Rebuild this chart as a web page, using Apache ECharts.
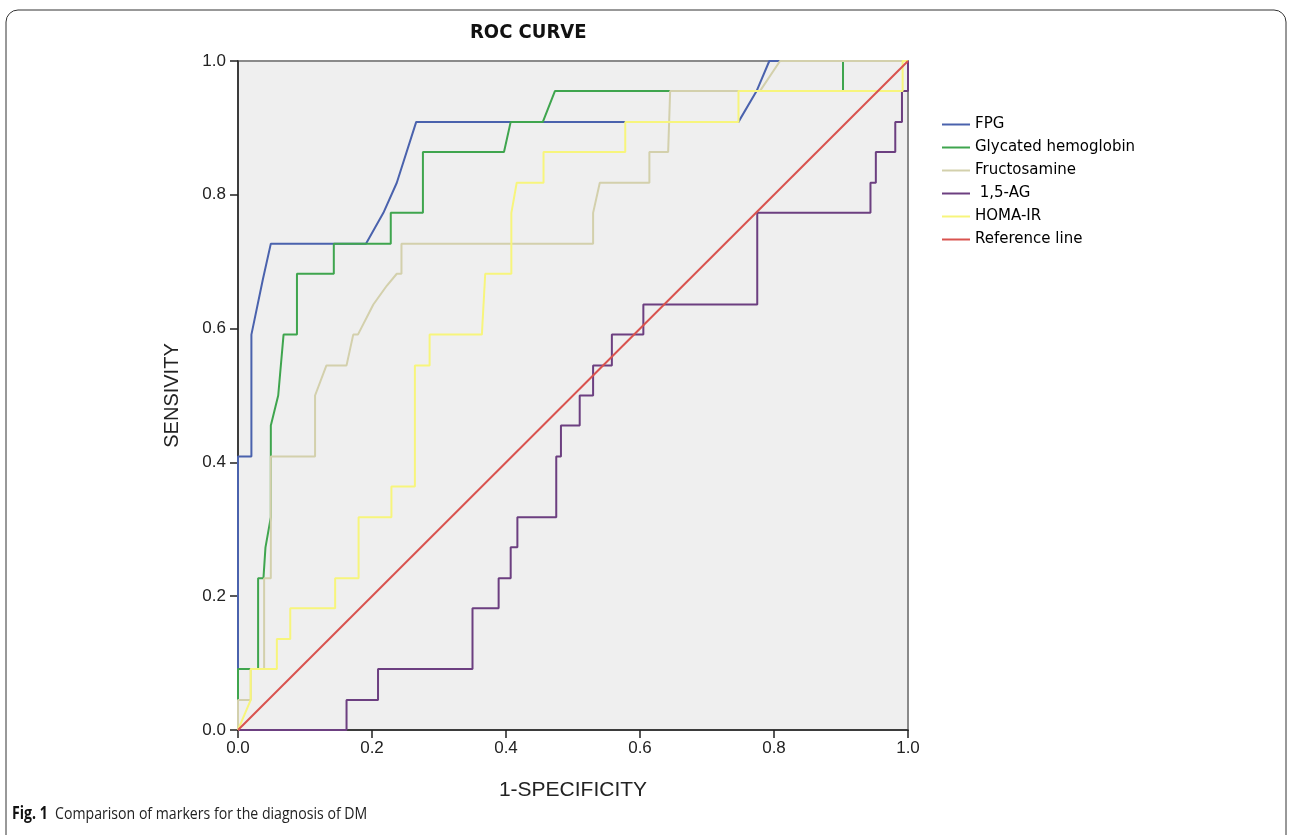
<!DOCTYPE html>
<html style="height: 100%">
<head>
    <meta charset="utf-8">
</head>
<body style="height: 100%; margin: 0; background: #fff">
    <div id="container" style="width: 1293px; height: 835px"></div>
    <script type="text/javascript" src="https://cdn.jsdelivr.net/npm/echarts@6/dist/echarts.min.js"></script>
    <script type="text/javascript">
        // ROC points, [1-specificity, sensitivity]
        var fpg = [[0, 0], [0, 0.409], [0.020, 0.409], [0.020, 0.591], [0.037, 0.673], [0.049, 0.727],
            [0.191, 0.727], [0.217, 0.773], [0.237, 0.818], [0.266, 0.909], [0.747, 0.909],
            [0.774, 0.955], [0.793, 1], [1, 1]];
        var hba1c = [[0, 0], [0, 0.091], [0.030, 0.091], [0.030, 0.227], [0.038, 0.227], [0.041, 0.273],
            [0.049, 0.318], [0.049, 0.455], [0.060, 0.5], [0.068, 0.591], [0.088, 0.591], [0.088, 0.682],
            [0.143, 0.682], [0.143, 0.727], [0.228, 0.727], [0.228, 0.773], [0.276, 0.773], [0.276, 0.864],
            [0.397, 0.864], [0.407, 0.909], [0.455, 0.909], [0.473, 0.955], [0.903, 0.955], [0.903, 1], [1, 1]];
        var fructosamine = [[0, 0], [0, 0.045], [0.019, 0.045], [0.019, 0.091], [0.039, 0.091], [0.039, 0.227],
            [0.049, 0.227], [0.049, 0.409], [0.115, 0.409], [0.115, 0.5], [0.132, 0.545], [0.162, 0.545],
            [0.172, 0.591], [0.179, 0.591], [0.202, 0.636], [0.222, 0.664], [0.237, 0.682], [0.244, 0.682],
            [0.244, 0.727], [0.530, 0.727], [0.530, 0.773], [0.540, 0.818], [0.614, 0.818], [0.614, 0.864],
            [0.642, 0.864], [0.645, 0.955], [0.779, 0.955], [0.809, 1], [1, 1]];
        var ag15 = [[0, 0], [0.162, 0], [0.162, 0.045], [0.209, 0.045], [0.209, 0.091], [0.350, 0.091],
            [0.350, 0.182], [0.389, 0.182], [0.389, 0.227], [0.407, 0.227], [0.407, 0.273], [0.417, 0.273],
            [0.417, 0.318], [0.475, 0.318], [0.475, 0.409], [0.482, 0.409], [0.482, 0.455], [0.510, 0.455],
            [0.510, 0.5], [0.530, 0.5], [0.530, 0.545], [0.558, 0.545], [0.558, 0.591], [0.605, 0.591],
            [0.605, 0.636], [0.775, 0.636], [0.775, 0.773], [0.944, 0.773], [0.944, 0.818], [0.952, 0.818],
            [0.952, 0.864], [0.981, 0.864], [0.981, 0.909], [0.991, 0.909], [0.991, 0.955], [1, 0.955], [1, 1]];
        var homaIR = [[0, 0], [0.019, 0.045], [0.019, 0.091], [0.058, 0.091], [0.058, 0.136], [0.078, 0.136],
            [0.078, 0.182], [0.145, 0.182], [0.145, 0.227], [0.180, 0.227], [0.180, 0.318], [0.229, 0.318],
            [0.229, 0.364], [0.264, 0.364], [0.264, 0.545], [0.286, 0.545], [0.286, 0.591], [0.364, 0.591],
            [0.369, 0.682], [0.408, 0.682], [0.408, 0.773], [0.416, 0.818], [0.456, 0.818], [0.456, 0.864],
            [0.578, 0.864], [0.578, 0.909], [0.747, 0.909], [0.747, 0.955], [0.992, 0.955], [0.992, 1], [1, 1]];
        var refLine = [[0, 0], [1, 1]];

        var names = ['FPG', 'Glycated hemoglobin', 'Fructosamine', ' 1,5-AG', 'HOMA-IR', 'Reference line'];
        var colors = ['#4a62ad', '#3fa54e', '#d3d0ac', '#6c3f80', '#f7f57c', '#d9534f'];
        var curves = [fpg, hba1c, fructosamine, ag15, homaIR, refLine];

        var dom = document.getElementById("container");
        var myChart = echarts.init(dom);

        var axisFont = { fontFamily: 'Liberation Sans', fontSize: 17, color: '#222' };

        var option = {
            animation: false,
            color: colors,
            grid: {
                left: 238, top: 61, width: 670, height: 669,
                show: true, backgroundColor: '#efefef', borderColor: '#8a8a8a', borderWidth: 2
            },
            legend: {
                orient: 'vertical',
                left: 937, top: 111,
                icon: 'rect', itemWidth: 28, itemHeight: 2, itemGap: 6,
                textStyle: { fontFamily: 'DejaVu Sans', fontSize: 15, color: '#000', lineHeight: 17 },
                data: names
            },
            xAxis: {
                type: 'value', min: 0, max: 1, interval: 0.2,
                name: '1-SPECIFICITY', nameLocation: 'middle', nameGap: 50,
                nameTextStyle: { fontFamily: 'Liberation Sans', fontSize: 21, color: '#222' },
                axisLine: { lineStyle: { color: '#222', width: 1.5 } },
                axisTick: { length: 8, lineStyle: { color: '#222', width: 1.5 } },
                axisLabel: Object.assign({ margin: 10, formatter: function (v) { return v.toFixed(1); } }, axisFont),
                splitLine: { show: false }
            },
            yAxis: {
                type: 'value', min: 0, max: 1, interval: 0.2,
                name: 'SENSIVITY', nameLocation: 'middle', nameGap: 56,
                nameTextStyle: { fontFamily: 'Liberation Sans', fontSize: 20, color: '#222' },
                axisLine: { show: true, lineStyle: { color: '#222', width: 1.5 } },
                axisTick: { show: true, length: 8, lineStyle: { color: '#222', width: 1.5 } },
                axisLabel: Object.assign({ margin: 12, formatter: function (v) { return v.toFixed(1); } }, axisFont),
                splitLine: { show: false }
            },
            graphic: [
                {
                    type: 'rect', silent: true,
                    shape: { x: 6, y: 10, width: 1280, height: 900, r: 12 },
                    style: { fill: 'none', stroke: '#333', lineWidth: 1 }
                },
                {
                    type: 'text', left: 470, top: 23,
                    style: { text: 'ROC CURVE', fontFamily: 'DejaVu Sans Condensed', fontWeight: 'bold', fontSize: 20, fill: '#111' }
                },
                {
                    type: 'text', left: 12, top: 806, scaleX: 0.83,
                    style: {
                        text: '{b|Fig. 1}  Comparison of markers for the diagnosis of DM',
                        fontFamily: 'Open Sans', fontSize: 17, fill: '#222',
                        rich: { b: { fontFamily: 'Open Sans', fontWeight: 'bold', fontSize: 17, fill: '#111' } }
                    }
                }
            ],
            series: curves.map(function (pts, i) {
                return {
                    name: names[i], type: 'line', data: pts,
                    showSymbol: false, symbol: 'none',
                    lineStyle: { width: 2, color: colors[i] },
                    z: 2 + i
                };
            })
        };

        myChart.setOption(option);
    </script>
</body>
</html>
